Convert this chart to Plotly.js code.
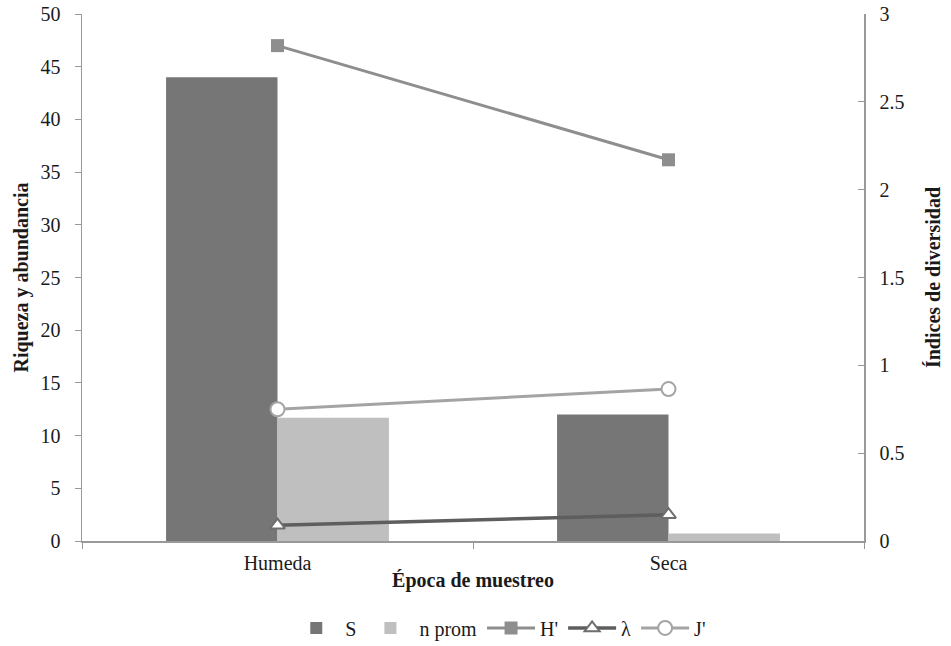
<!DOCTYPE html>
<html>
<head>
<meta charset="utf-8">
<script src="https://cdn.plot.ly/plotly-3.0.1.min.js"></script>
<style>html,body{margin:0;padding:0;background:#fff;}#chart{width:951px;height:646px;}</style>
</head>
<body>
<div id="chart"></div>
<script>
var categories = ["Humeda", "Seca"];
var S = [44, 12];
var nProm = [11.7, 0.7];
var H = [2.82, 2.17];
var lambda = [0.09, 0.15];
var J = [0.75, 0.865];

var FONT = "'Liberation Serif', 'DejaVu Serif', serif";

var traces = [
  {type: "bar", name: "S", x: categories, y: S, marker: {color: "#767676"}},
  {type: "bar", name: "n prom", x: categories, y: nProm, marker: {color: "#bfbfbf"}},
  {type: "scatter", mode: "lines+markers", name: "H'", x: categories, y: H, yaxis: "y2",
   line: {color: "#8e8e8e", width: 3}, marker: {symbol: "square", size: 13, color: "#8e8e8e"}},
  {type: "scatter", mode: "lines+markers", name: "λ", x: categories, y: lambda, yaxis: "y2",
   line: {color: "#5e5e5e", width: 3.5}, marker: {symbol: "triangle-up", size: 13, color: "#ffffff", line: {color: "#6e6e6e", width: 2}}},
  {type: "scatter", mode: "lines+markers", name: "J'", x: categories, y: J, yaxis: "y2",
   line: {color: "#a4a4a4", width: 3}, marker: {symbol: "circle", size: 14, color: "#ffffff", line: {color: "#a4a4a4", width: 2}}}
];

var layout = {
  width: 951, height: 646,
  margin: {l: 82, r: 87, t: 14, b: 105},
  paper_bgcolor: "#fff", plot_bgcolor: "#fff",
  font: {family: FONT, size: 20, color: "#1a1a1a"},
  barmode: "group", bargap: 0.43, bargroupgap: 0,
  showlegend: true,
  legend: {orientation: "h", x: 0.525, xanchor: "center", xref: "container", yref: "container", y: 0.028, yanchor: "middle",
           font: {family: FONT, size: 20}, tracegroupgap: 0, itemwidth: 48},
  xaxis: {
    type: "category", tickson: "boundaries", ticks: "outside", ticklen: 6, tickcolor: "#999",
    showline: true, linecolor: "#999", linewidth: 1.5, showgrid: false, zeroline: false,
    tickfont: {family: FONT, size: 20}, ticklabelstandoff: 3,
    title: {text: "<b>Época de muestreo</b>", font: {family: FONT, size: 20}, standoff: 0}
  },
  yaxis: {
    range: [0, 50], dtick: 5, ticks: "outside", ticklen: 6, tickcolor: "#999",
    showline: true, linecolor: "#999", linewidth: 1.5, showgrid: false, zeroline: false,
    tickfont: {family: FONT, size: 20}, ticklabelstandoff: 10,
    title: {text: "<b>Riqueza y abundancia</b>", font: {family: FONT, size: 20}, standoff: 6}
  },
  yaxis2: {
    overlaying: "y", side: "right", range: [0, 3], dtick: 0.5, ticks: "inside", ticklen: 6, tickcolor: "#999",
    showline: true, linecolor: "#999", linewidth: 1.5, showgrid: false, zeroline: false,
    tickfont: {family: FONT, size: 20}, ticklabelstandoff: 10,
    title: {text: "<b>Índices de diversidad</b>", font: {family: FONT, size: 20}, standoff: 22}
  }
};

Plotly.newPlot("chart", traces, layout, {displayModeBar: false, staticPlot: true});
</script>
</body>
</html>
